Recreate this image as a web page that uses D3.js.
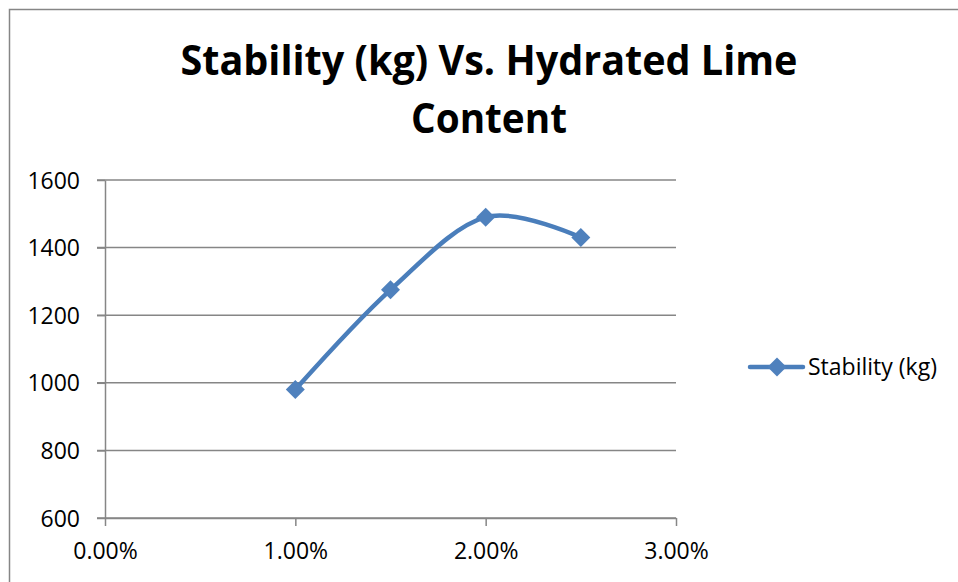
<!DOCTYPE html>
<html>
<head>
<meta charset="utf-8">
<script src="https://cdn.jsdelivr.net/npm/d3@7"></script>
<style>
  body { margin: 0; background: #fff; }
  svg { display: block; font-family: 'Open Sans', sans-serif; }
</style>
</head>
<body>
<svg id="chart" width="958" height="582"></svg>
<script>
// data
const limeContent = [0.01, 0.015, 0.02, 0.025];
const stability = [980, 1275, 1490, 1430];
const xTicks = [0, 0.01, 0.02, 0.03];
const yTicks = [600, 800, 1000, 1200, 1400, 1600];
const titleLines = ['Stability (kg) Vs. Hydrated Lime', 'Content'];
const seriesName = 'Stability (kg)';

const points = limeContent.map((d, i) => ({ x: d, y: stability[i] }));

const svg = d3.select('#chart');
const grey = '#868686';
const blue = '#4a7ebb';

// chart area border (right & bottom run off the picture)
svg.append('rect')
    .attr('x', 9.5).attr('y', 9.5)
    .attr('width', 1000).attr('height', 1000)
    .attr('fill', 'none')
    .attr('stroke', grey)
    .attr('stroke-width', 1.5);

const margin = { top: 180, left: 105 };
const width = 571, height = 338;

const g = svg.append('g')
    .attr('transform', 'translate(' + margin.left + ',' + margin.top + ')');

const x = d3.scaleLinear().domain([0, 0.03]).range([0, width]);
const y = d3.scaleLinear().domain([600, 1600]).range([height, 0]);

// gridlines
g.append('g')
    .selectAll('line')
    .data(yTicks)
    .join('line')
    .attr('x1', -8).attr('x2', width)
    .attr('y1', d => y(d)).attr('y2', d => y(d))
    .attr('stroke', grey)
    .attr('stroke-width', 1.5);

// y axis
const yAxis = g.append('g')
    .call(d3.axisLeft(y).tickValues(yTicks).tickFormat(d3.format('d'))
        .tickSize(8).tickSizeOuter(0).tickPadding(17));

// x axis
const xAxis = g.append('g')
    .attr('transform', 'translate(0,' + height + ')')
    .call(d3.axisBottom(x).tickValues(xTicks).tickFormat(d3.format('.2%'))
        .tickSize(8).tickSizeOuter(0).tickPadding(16));

[yAxis, xAxis].forEach(a => {
    a.selectAll('path, line').attr('stroke', grey).attr('stroke-width', 1.5);
    a.selectAll('text')
        .attr('fill', '#000')
        .attr('font-size', '23px')
        .attr('font-family', "'Open Sans', sans-serif");
});
yAxis.selectAll('text').attr('dy', '0.35em');
xAxis.selectAll('text').attr('dy', '0.75em');

// smoothed line
const line = d3.line()
    .x(d => x(d.x))
    .y(d => y(d.y))
    .curve(d3.curveCardinal.tension(0));

g.append('path')
    .datum(points)
    .attr('fill', 'none')
    .attr('stroke', blue)
    .attr('stroke-width', 4.5)
    .attr('stroke-linecap', 'round')
    .attr('d', line);

// diamond markers
const diamond = d3.symbol(d3.symbolSquare, 180);
g.selectAll('.marker')
    .data(points)
    .join('path')
    .attr('class', 'marker')
    .attr('d', diamond)
    .attr('transform', d => 'translate(' + x(d.x) + ',' + y(d.y) + ') rotate(45)')
    .attr('fill', '#4f81bd');

// title
svg.append('g')
    .selectAll('text')
    .data(titleLines)
    .join('text')
    .attr('x', 489)
    .attr('y', (d, i) => 75 + i * 58)
    .attr('text-anchor', 'middle')
    .attr('font-size', '41px')
    .attr('font-weight', 'bold')
    .attr('fill', '#000')
    .attr('textLength', (d, i) => i === 0 ? 617 : 156)
    .attr('lengthAdjust', 'spacingAndGlyphs')
    .text(d => d);

// legend
const legend = svg.append('g').attr('transform', 'translate(750,367)');
legend.append('line')
    .attr('x1', 0).attr('x2', 53)
    .attr('stroke', blue)
    .attr('stroke-width', 4.5)
    .attr('stroke-linecap', 'round');
legend.append('path')
    .attr('d', diamond)
    .attr('transform', 'translate(27,0) rotate(45)')
    .attr('fill', '#4f81bd');
legend.append('text')
    .attr('x', 58)
    .attr('y', 8)
    .attr('font-size', '23px')
    .attr('fill', '#000')
    .text(seriesName);
</script>
</body>
</html>
